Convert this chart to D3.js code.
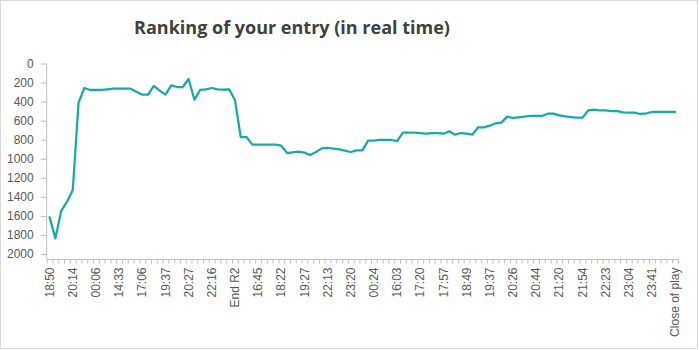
<!DOCTYPE html>
<html>
<head>
<meta charset="utf-8">
<script src="https://cdn.jsdelivr.net/npm/d3@7"></script>
<style>
  html, body { margin: 0; padding: 0; background: #fff; }
  svg { display: block; font-family: "Segoe UI", "Open Sans", "Noto Sans", sans-serif; }
</style>
</head>
<body>
<svg id="chart" width="699" height="350"></svg>
<script>
// Category labels shown on the time axis (one every 4 updates)
const tickLabels = [
  "18:50", "20:14", "00:06", "14:33", "17:06", "19:37", "20:27", "22:16", "End R2",
  "16:45", "18:22", "19:27", "22:13", "23:20", "00:24", "16:03", "17:20", "17:57",
  "18:49", "19:37", "20:26", "20:44", "21:20", "21:54", "22:23", "23:04", "23:41",
  "Close of play"
];
const labelEvery = 4;

// Ranking at each update
const ranks = [
  1615, 1836, 1549, 1451, 1328, 411, 257, 278, 278, 278,
  271, 264, 264, 264, 264, 296, 327, 327, 236, 285,
  327, 229, 247, 247, 163, 380, 278, 271, 257, 271,
  275, 271, 383, 772, 772, 852, 852, 852, 852, 852,
  863, 940, 933, 926, 936, 961, 929, 891, 887, 894,
  901, 915, 929, 912, 912, 810, 810, 803, 803, 803,
  814, 726, 726, 726, 730, 737, 730, 730, 737, 712,
  747, 730, 737, 747, 670, 670, 653, 628, 621, 558,
  572, 565, 558, 551, 551, 551, 527, 527, 544, 555,
  562, 569, 569, 492, 485, 492, 492, 499, 499, 513,
  516, 516, 530, 523, 509, 509, 509, 509, 509
];

const yTicks = d3.range(0, 2001, 200);

const svg = d3.select("#chart");
const W = 699, H = 350;
const plotLeft = 46.7, plotRight = 678, plotTop = 63.5, plotBottom = 254, axisY = 259.5;

// Outer frame
svg.append("rect")
  .attr("x", 0.5).attr("y", 0.5)
  .attr("width", W - 2).attr("height", H - 2)
  .attr("fill", "#fff").attr("stroke", "#d9d9d9");

// Title
svg.append("text")
  .attr("x", 292).attr("y", 34)
  .attr("text-anchor", "middle")
  .attr("font-size", 18).attr("font-weight", "bold")
  .attr("fill", "#404040")
  .text("Ranking of your entry (in real time)");

const idx = d3.range(ranks.length);
const x = d3.scaleBand().domain(idx).range([plotLeft, plotRight]).padding(0);
const xEdge = d3.scaleLinear().domain([0, ranks.length]).range([plotLeft, plotRight]);
const y = d3.scaleLinear().domain([0, 2000]).range([plotTop, plotBottom]);

// Y axis (rank, reversed)
const yAxis = svg.append("g")
  .attr("transform", `translate(${plotLeft},0)`)
  .call(d3.axisLeft(y).tickValues(yTicks).tickSize(6).tickPadding(7).tickFormat(d3.format("d")));
yAxis.select(".domain").attr("d", `M0,${plotTop}V${axisY}`).attr("stroke", "#bfbfbf");
yAxis.selectAll(".tick line").attr("stroke", "#bfbfbf");
yAxis.selectAll(".tick text").attr("font-size", 12).attr("fill", "#595959")
  .style("font-family", "inherit");

// X axis: tick marks between categories
const xTickAxis = svg.append("g")
  .attr("transform", `translate(0,${axisY})`)
  .call(d3.axisBottom(xEdge).tickValues(d3.range(ranks.length + 1)).tickSize(4).tickFormat(""));
xTickAxis.select(".domain").attr("d", `M${plotLeft},0H${plotRight}`).attr("stroke", "#bfbfbf");
xTickAxis.selectAll(".tick line").attr("stroke", "#bfbfbf");

// X axis labels: every 4th category, rotated
const labelIdx = idx.filter(i => i % labelEvery === 0);
const xLabelAxis = svg.append("g")
  .attr("transform", `translate(0,${axisY})`)
  .call(d3.axisBottom(x).tickValues(labelIdx).tickSize(0)
    .tickFormat(i => tickLabels[i / labelEvery]));
xLabelAxis.select(".domain").remove();
xLabelAxis.selectAll(".tick text")
  .attr("transform", "rotate(-90)")
  .attr("text-anchor", "end")
  .attr("x", -8).attr("y", 0).attr("dy", "0.35em")
  .attr("font-size", 12).attr("fill", "#595959")
  .style("font-family", "inherit");

// Ranking line
const line = d3.line()
  .x((d, i) => x(i) + x.bandwidth() / 2)
  .y(d => y(d));
svg.append("path")
  .datum(ranks)
  .attr("d", line)
  .attr("fill", "none")
  .attr("stroke", "#17aaa6")
  .attr("stroke-width", 2.25)
  .attr("stroke-linejoin", "round")
  .attr("stroke-linecap", "round");
</script>
</body>
</html>
